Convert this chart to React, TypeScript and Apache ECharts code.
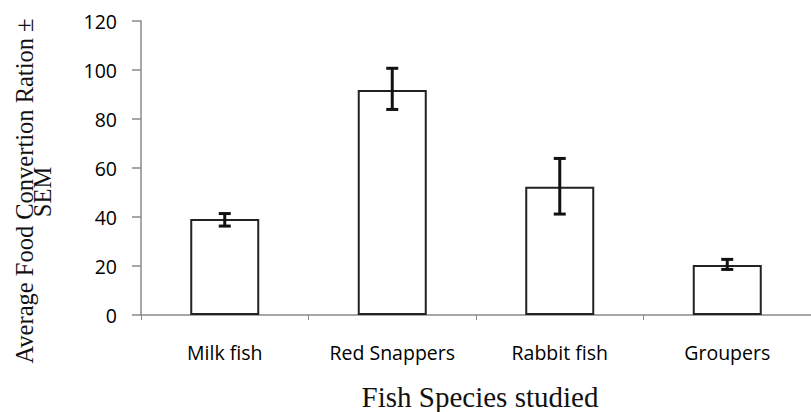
import React, { useEffect, useRef } from "react";
import * as echarts from "echarts";

const categories = ["Milk fish", "Red Snappers", "Rabbit fish", "Groupers"];
const means = [39.2, 91.8, 52.3, 20.4];
const errLow = [36.3, 83.9, 41.2, 18.6];
const errHigh = [41.4, 100.7, 63.9, 22.7];
const yTicks = { min: 0, max: 120, interval: 20 };

export default function App() {
  const ref = useRef<HTMLDivElement>(null);
  useEffect(() => {
    if (!ref.current) return;
    const chart = echarts.init(ref.current, null, { renderer: "svg" });
    const errData = categories.map((_, i) => [i, errLow[i], errHigh[i]]);
    const serif = "'Liberation Serif', 'Times New Roman', serif";
    chart.setOption({
      animation: false,
      backgroundColor: "#ffffff",
      grid: { left: 141, top: 21, width: 678, height: 294, containLabel: false },
      xAxis: {
        type: "category",
        data: categories,
        boundaryGap: true,
        axisLine: { lineStyle: { color: "#8a8a8a", width: 1.5 } },
        axisTick: { show: true, length: 5, lineStyle: { color: "#8a8a8a", width: 1 } },
        axisLabel: { color: "#000", fontFamily: "Open Sans", fontSize: 19.5, margin: 27 },
      },
      yAxis: {
        type: "value",
        min: yTicks.min,
        max: yTicks.max,
        interval: yTicks.interval,
        splitLine: { show: false },
        axisLine: { show: true, lineStyle: { color: "#8a8a8a", width: 1.5 } },
        axisTick: { show: true, length: 9, lineStyle: { color: "#8a8a8a", width: 1.5 } },
        axisLabel: { color: "#000", fontFamily: "Open Sans", fontSize: 19.5, margin: 24 },
      },
      series: [
        {
          type: "bar",
          data: means,
          barWidth: 69,
          itemStyle: { color: "#ffffff", borderColor: "#222", borderWidth: 2 },
          z: 2,
        },
        {
          type: "custom",
          data: errData,
          z: 5,
          renderItem: (params: any, api: any) => {
            const x = api.value(0);
            const lo = api.coord([x, api.value(1)]);
            const hi = api.coord([x, api.value(2)]);
            const hw = 6;
            const style = { stroke: "#111", lineWidth: 3 };
            return {
              type: "group",
              children: [
                { type: "line", shape: { x1: lo[0], y1: lo[1], x2: hi[0], y2: hi[1] }, style },
                { type: "line", shape: { x1: lo[0] - hw, y1: lo[1], x2: lo[0] + hw, y2: lo[1] }, style },
                { type: "line", shape: { x1: hi[0] - hw, y1: hi[1], x2: hi[0] + hw, y2: hi[1] }, style },
              ],
            };
          },
        },
      ],
      graphic: [
        {
          type: "text",
          x: 480,
          y: 397,
          style: {
            text: "Fish Species studied",
            font: "29px " + serif,
            fill: "#111",
            textAlign: "center",
            textVerticalAlign: "middle",
          },
        },
        {
          type: "text",
          x: 24,
          y: 191,
          rotation: Math.PI / 2,
          style: {
            text: "Average Food Convertion Ration \u00b1",
            font: "24.5px " + serif,
            fill: "#111",
            textAlign: "center",
            textVerticalAlign: "middle",
          },
        },
        {
          type: "text",
          x: 42,
          y: 192,
          rotation: Math.PI / 2,
          style: {
            text: "SEM",
            font: "24.5px " + serif,
            fill: "#111",
            textAlign: "center",
            textVerticalAlign: "middle",
          },
        },
      ],
    });
    return () => chart.dispose();
  }, []);
  return (
    <div
      ref={ref}
      style={{ position: "absolute", left: 0, top: 0, width: 811, height: 412 }}
    />
  );
}
